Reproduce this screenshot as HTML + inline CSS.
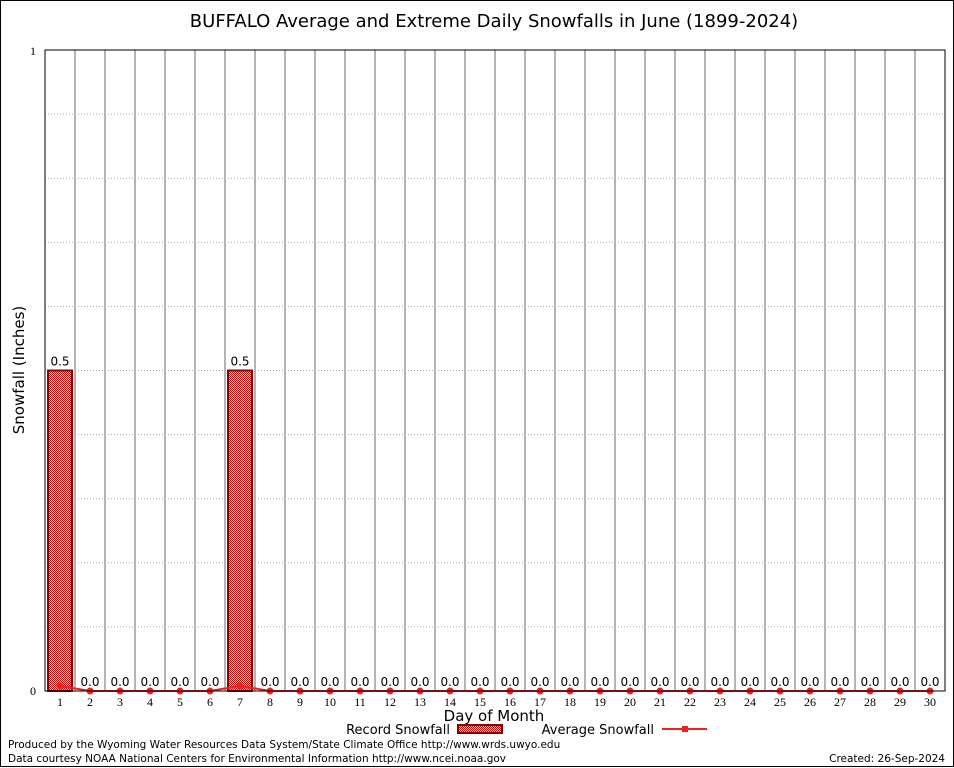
<!DOCTYPE html>
<html><head><meta charset="utf-8"><style>
body{margin:0;background:#fff}
svg{display:block;font-family:"DejaVu Sans","Liberation Sans",sans-serif}
</style></head><body>
<svg id="chart" width="954" height="768">
<defs><pattern id="chk" width="2" height="2" patternUnits="userSpaceOnUse"><rect width="2" height="2" fill="#f4c8c8"/><rect width="1" height="1" fill="#b01010"/><rect x="1" y="1" width="1" height="1" fill="#b01010"/></pattern></defs>
<rect x="0.5" y="0.5" width="953" height="766" fill="#fff" stroke="#000"/>
<text x="494" y="27" font-size="18" text-anchor="middle">BUFFALO Average and Extreme Daily Snowfalls in June (1899-2024)</text>
<g id="grid"></g><g id="bars"></g><g id="line"></g><g id="labels"></g>
<rect x="45" y="50" width="900" height="641" fill="none" stroke="#000"/>
<text x="36" y="55" font-size="12" text-anchor="end" font-family="Liberation Serif,serif">1</text>
<text x="36" y="695" font-size="12" text-anchor="end" font-family="Liberation Serif,serif">0</text>
<text x="24" y="370" font-size="15" text-anchor="middle" transform="rotate(-90 24 370)">Snowfall (Inches)</text>
<text x="494" y="721" font-size="15" text-anchor="middle">Day of Month</text>
<g>
<text x="450" y="734" font-size="13" text-anchor="end">Record Snowfall</text>
<rect x="458" y="725" width="44" height="8" fill="url(#chk)" stroke="#8b0000" stroke-width="2"/>
<text x="654" y="734" font-size="13" text-anchor="end">Average Snowfall</text>
<line x1="662" y1="729" x2="707" y2="729" stroke="#f02020" stroke-width="2"/>
<rect x="682" y="726" width="6" height="6" fill="#f02020"/>
</g>
<text x="8" y="748" font-size="10.5">Produced by the Wyoming Water Resources Data System/State Climate Office http://www.wrds.uwyo.edu</text>
<text x="8" y="762" font-size="10.5">Data courtesy NOAA National Centers for Environmental Information http://www.ncei.noaa.gov</text>
<text x="945" y="762" font-size="10.5" text-anchor="end">Created: 26-Sep-2024</text>
</svg>
<script>
const days=[1,2,3,4,5,6,7,8,9,10,11,12,13,14,15,16,17,18,19,20,21,22,23,24,25,26,27,28,29,30];
const recordSnow=[0.5,0,0,0,0,0,0.5,0,0,0,0,0,0,0,0,0,0,0,0,0,0,0,0,0,0,0,0,0,0,0];
const avgSnow=[0.008,0,0,0,0,0,0.008,0,0,0,0,0,0,0,0,0,0,0,0,0,0,0,0,0,0,0,0,0,0,0];
const yTicks=[0.1,0.2,0.3,0.4,0.5,0.6,0.7,0.8,0.9];
const NS="http://www.w3.org/2000/svg";
const X0=45,W=900,Y0=691,H=641,YMAX=1;
const x=d=>X0+(d-0.5)*W/days.length;
const y=v=>Y0-v/YMAX*H;
function mk(t,a,p){const e=document.createElementNS(NS,t);for(const k in a)e.setAttribute(k,a[k]);p.appendChild(e);return e;}
const g=document.getElementById('grid'),b=document.getElementById('bars'),l=document.getElementById('line'),lb=document.getElementById('labels');
yTicks.forEach(v=>{const e=mk('line',{x1:X0,x2:X0+W,y1:y(v),y2:y(v),stroke:'#aaa','stroke-dasharray':'1,2'},g);

});
days.forEach((d,i)=>{
 if(i<days.length-1){const e=mk('line',{x1:x(d)+15,x2:x(d)+15,y1:50,y2:Y0,stroke:'#b4b4b4','stroke-width':2},g);
 
 }
 const t=mk('text',{x:x(d),y:706,'font-size':12,'text-anchor':'middle','font-family':'Liberation Serif,serif'},lb);t.textContent=d;
 
 
 const r=recordSnow[i];
 if(r>0){const bar=mk('rect',{x:x(d)-12,y:y(r),width:24,height:Y0-y(r),fill:'url(#chk)',stroke:'#8b0000','stroke-width':2},b);
 
 }
 const vt=mk('text',{x:x(d),y:y(r)-5,'font-size':12,'text-anchor':'middle'},lb);vt.textContent=r.toFixed(1);
 
 
 const m=mk('circle',{cx:x(d),cy:y(avgSnow[i]),r:3.5,fill:'#f02020'},l);
 
 
});
const pl=mk('polyline',{points:days.map((d,i)=>x(d)+','+y(avgSnow[i])).join(' '),fill:'none',stroke:'#f02020','stroke-width':2},l);


</script>
</body></html>
